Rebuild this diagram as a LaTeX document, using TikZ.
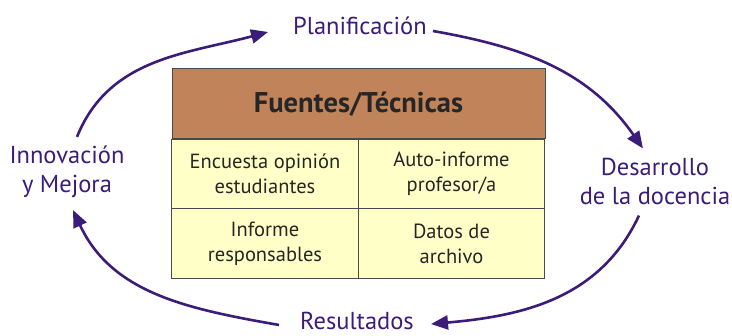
\documentclass[tikz,border=0pt]{standalone}
\usepackage{fontspec}
\setmainfont{PT Sans}
\usetikzlibrary{arrows.meta}
\definecolor{morado}{HTML}{3B1C78}
\definecolor{marron}{HTML}{C1845A}
\definecolor{crema}{HTML}{FFFFC8}
\definecolor{borde}{HTML}{4A4A4A}

\begin{document}
\begin{tikzpicture}[x=1pt,y=1pt,
		etapa/.style={text=morado, align=center, inner sep=2pt, font=\fontsize{24.5}{29}\selectfont},
		celda/.style={draw=borde, fill=crema, line width=1pt, inner sep=0pt, minimum width=186.5pt, minimum height=69.5pt, align=center, text=black!85, font=\fontsize{20.5}{25}\selectfont},
		cabecera/.style={draw=borde, fill=marron, line width=1pt, inner sep=0pt, minimum width=373pt, minimum height=70pt, text=black!85, font=\fontsize{28.5}{30}\selectfont\bfseries},
		ciclo/.style={draw=morado, line width=2.6pt, -{Triangle[length=17pt,width=14pt]}}]
		\useasboundingbox (0,0) rectangle (732,336);
	
		% tabla central
		\node[cabecera] (fuentes) at (358.5,232) {Fuentes/Técnicas};
		\node[celda] (encuesta) at (265,162) {Encuesta opinión\\estudiantes};
		\node[celda] (autoinforme) at (451.5,162) {Auto-informe\\profesor/a};
		\node[celda] (informe) at (265,92.5) {Informe\\responsables};
		\node[celda] (datos) at (451.5,92.5) {Datos de\\archivo};
		
		% etapas del ciclo
		\node[etapa] (planif) at (360,310) {Planificación};
		\node[etapa] (desarrollo) at (655,155) {Desarrollo\\de la docencia};
		\node[etapa] (resultados) at (357,15) {Resultados};
		\node[etapa] (innovacion) at (67,164) {Innovación\\y Mejora};
		
		\draw[ciclo] ([shift={(10,7)}]innovacion.north) to[out=68,in=195] ([shift={(-23,-6)}]planif.west);
		\draw[ciclo] ([shift={(4,-5)}]planif.east) to[out=-10,in=125] ([shift={(-12,7)}]desarrollo.north);
		\draw[ciclo] ([shift={(-16,-9)}]desarrollo.south) to[out=245,in=5] ([shift={(15,-3)}]resultados.east);
		\draw[ciclo] ([shift={(-19,-4)}]resultados.west) to[out=170,in=-65] ([shift={(6,-10)}]innovacion.south);
		
	\end{tikzpicture}
\end{document}
